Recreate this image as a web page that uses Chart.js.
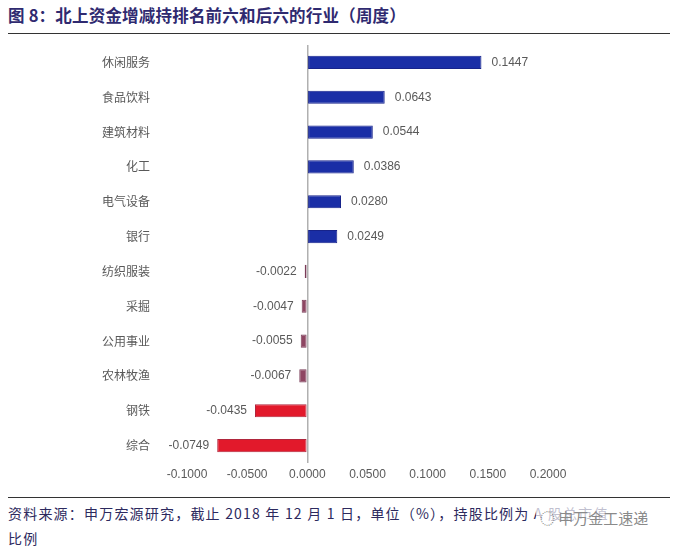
<!DOCTYPE html>
<html>
<head>
<meta charset="utf-8">
<script src="https://cdn.jsdelivr.net/npm/chart.js@4.4.1/dist/chart.umd.min.js"></script>
<style>
  html, body { margin: 0; padding: 0; background: #fff; }
  body { width: 678px; height: 549px; position: relative; overflow: hidden;
         font-family: "Noto Sans CJK SC", "Liberation Sans", sans-serif; }
  #title { position: absolute; left: 8px; top: 3px; font-size: 16.5px; font-weight: bold;
           color: #2f2a70; letter-spacing: 0.2px; }
  .rule { position: absolute; left: 8px; width: 662px; height: 1px; background: #333; }
  #chartBox { position: absolute; left: 0; top: 40px; width: 678px; height: 450px; }
  .note { position: absolute; left: 8px; font-size: 14px; color: #2d2a5e; white-space: nowrap;
          letter-spacing: 1.2px; }
  #mark { position: absolute; left: 536px; top: 507px; font-size: 15px; color: #8a8a8a;
          background: rgba(255,255,255,0.7); padding: 0 4px; }
</style>
</head>
<body>
<div id="title">图 8：北上资金增减持排名前六和后六的行业（周度）</div>
<div class="rule" style="top:33px"></div>
<div id="chartBox"><canvas id="myChart"></canvas></div>
<div class="rule" style="top:497px"></div>
<div class="note" style="top:503px">资料来源：申万宏源研究，截止 2018 年 12 月 1 日，单位（%），持股比例为 A 股总市值</div>
<div class="note" style="top:528px">比例</div>
<div id="mark">◌ 申万金工速递</div>
<script>
const industries = ['休闲服务', '食品饮料', '建筑材料', '化工', '电气设备', '银行',
    '纺织服装', '采掘', '公用事业', '农林牧渔', '钢铁', '综合'];
const holdChange = [0.1447, 0.0643, 0.0544, 0.0386, 0.0280, 0.0249,
    -0.0022, -0.0047, -0.0055, -0.0067, -0.0435, -0.0749];
const xTicks = [-0.1, -0.05, 0, 0.05, 0.1, 0.15, 0.2];

function barColor(v) {
    if (v > 0) return '#1a2ea6';
    if (v > -0.01) return '#8e4662';
    return '#e2192b';
}
function barBorder(v) {
    if (v > 0) return '#17238a';
    if (v > -0.01) return '#7a3c58';
    return '#b0263d';
}

// draw the value next to the end of each bar
const valueLabels = {
    id: 'valueLabels',
    afterDatasetsDraw(chart) {
        const ctx = chart.ctx;
        const meta = chart.getDatasetMeta(0);
        ctx.save();
        ctx.font = '12px "Liberation Sans", Arial, sans-serif';
        ctx.fillStyle = '#595959';
        ctx.textBaseline = 'middle';
        meta.data.forEach((bar, i) => {
            const v = holdChange[i];
            if (v >= 0) {
                ctx.textAlign = 'left';
                ctx.fillText(v.toFixed(4), bar.x + 10, bar.y);
            } else {
                ctx.textAlign = 'right';
                ctx.fillText(v.toFixed(4), bar.x - 8, bar.y);
            }
        });
        ctx.restore();
    }
};

document.addEventListener("DOMContentLoaded", function () {
    const ctx = document.getElementById('myChart').getContext('2d');
    new Chart(ctx, {
        type: 'bar',
        data: {
            labels: industries,
            datasets: [{
                data: holdChange,
                backgroundColor: holdChange.map(barColor),
                borderColor: holdChange.map(barBorder),
                borderWidth: 1,
                borderSkipped: false,
                barPercentage: 0.9,
                categoryPercentage: 0.42
            }]
        },
        options: {
            indexAxis: 'y',
            responsive: true,
            maintainAspectRatio: false,
            animation: false,
            layout: { padding: { top: 5, right: 130, bottom: 0, left: 0 } },
            plugins: { legend: { display: false }, tooltip: { enabled: false } },
            scales: {
                x: {
                    min: -0.1,
                    max: 0.2,
                    afterBuildTicks: axis => { axis.ticks = xTicks.map(v => ({ value: v })); },
                    afterFit: axis => { axis.height = 27; },
                    border: { display: false },
                    grid: {
                        drawTicks: false,
                        color: c => (c.tick && c.tick.value === 0) ? '#b0b0b0' : 'rgba(0,0,0,0)',
                        lineWidth: 1.5
                    },
                    ticks: {
                        padding: 4,
                        color: '#595959',
                        font: { size: 12, family: '"Liberation Sans", Arial, sans-serif' },
                        callback: v => Number(v).toFixed(4)
                    }
                },
                y: {
                    // tick padding would also pad top/bottom, so reset that
                    afterFit: axis => {
                        axis.width = 187;
                        axis.paddingTop = 0;
                        axis.paddingBottom = 0;
                    },
                    border: { display: false },
                    grid: { display: false, drawTicks: false },
                    ticks: {
                        padding: 37,
                        color: '#595959',
                        font: { size: 12, family: '"Noto Sans CJK SC", sans-serif' }
                    }
                }
            }
        },
        plugins: [valueLabels]
    });
});
</script>
</body>
</html>
